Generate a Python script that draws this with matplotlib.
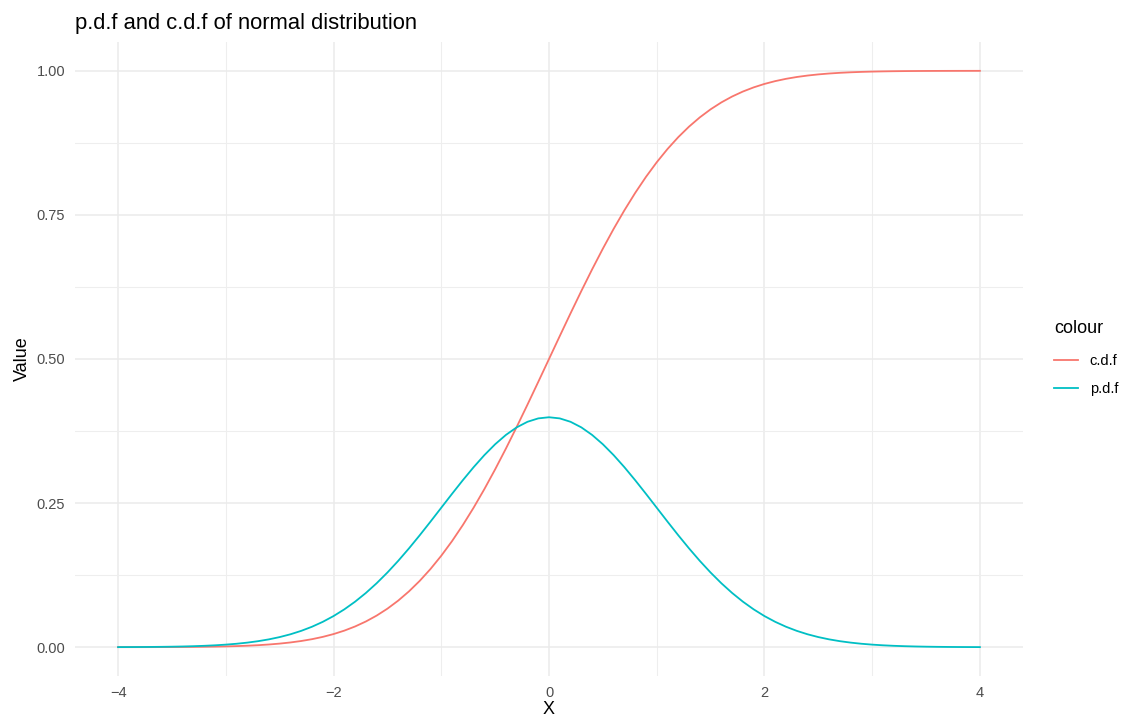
import matplotlib
matplotlib.use("Agg")
import matplotlib.pyplot as plt
from matplotlib.ticker import FixedLocator

plt.rcParams['font.family'] = ['Liberation Sans', 'DejaVu Sans']

# ---- data ----
x_vals = [-4.0, -3.9, -3.8, -3.7, -3.6, -3.5, -3.4, -3.3, -3.2, -3.1,
          -3.0, -2.9, -2.8, -2.7, -2.6, -2.5, -2.4, -2.3, -2.2, -2.1,
          -2.0, -1.9, -1.8, -1.7, -1.6, -1.5, -1.4, -1.3, -1.2, -1.1,
          -1.0, -0.9, -0.8, -0.7, -0.6, -0.5, -0.4, -0.3, -0.2, -0.1,
          0.0,
          0.1, 0.2, 0.3, 0.4, 0.5, 0.6, 0.7, 0.8, 0.9, 1.0,
          1.1, 1.2, 1.3, 1.4, 1.5, 1.6, 1.7, 1.8, 1.9, 2.0,
          2.1, 2.2, 2.3, 2.4, 2.5, 2.6, 2.7, 2.8, 2.9, 3.0,
          3.1, 3.2, 3.3, 3.4, 3.5, 3.6, 3.7, 3.8, 3.9, 4.0]
pdf_vals = [0.00013, 0.00020, 0.00029, 0.00042, 0.00061, 0.00087, 0.00123, 0.00172, 0.00238, 0.00327,
            0.00443, 0.00595, 0.00792, 0.01042, 0.01358, 0.01753, 0.02239, 0.02833, 0.03547, 0.04398,
            0.05399, 0.06562, 0.07895, 0.09405, 0.11092, 0.12952, 0.14973, 0.17137, 0.19419, 0.21785,
            0.24197, 0.26609, 0.28969, 0.31225, 0.33322, 0.35207, 0.36827, 0.38139, 0.39104, 0.39695,
            0.39894,
            0.39695, 0.39104, 0.38139, 0.36827, 0.35207, 0.33322, 0.31225, 0.28969, 0.26609, 0.24197,
            0.21785, 0.19419, 0.17137, 0.14973, 0.12952, 0.11092, 0.09405, 0.07895, 0.06562, 0.05399,
            0.04398, 0.03547, 0.02833, 0.02239, 0.01753, 0.01358, 0.01042, 0.00792, 0.00595, 0.00443,
            0.00327, 0.00238, 0.00172, 0.00123, 0.00087, 0.00061, 0.00042, 0.00029, 0.00020, 0.00013]
cdf_vals = [0.00003, 0.00005, 0.00007, 0.00011, 0.00016, 0.00023, 0.00034, 0.00048, 0.00069, 0.00097,
            0.00135, 0.00187, 0.00256, 0.00347, 0.00466, 0.00621, 0.00820, 0.01072, 0.01390, 0.01786,
            0.02275, 0.02872, 0.03593, 0.04457, 0.05480, 0.06681, 0.08076, 0.09680, 0.11507, 0.13567,
            0.15866, 0.18406, 0.21186, 0.24196, 0.27425, 0.30854, 0.34458, 0.38209, 0.42074, 0.46017,
            0.50000,
            0.53983, 0.57926, 0.61791, 0.65542, 0.69146, 0.72575, 0.75804, 0.78814, 0.81594, 0.84134,
            0.86433, 0.88493, 0.90320, 0.91924, 0.93319, 0.94520, 0.95543, 0.96407, 0.97128, 0.97725,
            0.98214, 0.98610, 0.98928, 0.99180, 0.99379, 0.99534, 0.99653, 0.99744, 0.99813, 0.99865,
            0.99903, 0.99931, 0.99952, 0.99966, 0.99977, 0.99984, 0.99989, 0.99993, 0.99995, 0.99997]
series_names = ["c.d.f", "p.d.f"]
series_colors = ["#F8766D", "#00BFC4"]
x_ticks = [-4, -2, 0, 2, 4]
x_ticklabels = ["\u22124", "\u22122", "0", "2", "4"]
y_ticks = [0.00, 0.25, 0.50, 0.75, 1.00]
y_ticklabels = ["0.00", "0.25", "0.50", "0.75", "1.00"]
x_minor = [-3, -1, 1, 3]
y_minor = [0.125, 0.375, 0.625, 0.875]

W, H = 1139, 727
fig = plt.figure(figsize=(W / 100, H / 100), dpi=100)
left, right, top, bottom = 75, 1023, 42, 676
ax = fig.add_axes([left / W, 1 - bottom / H, (right - left) / W, (bottom - top) / H])

ax.set_xlim(-4.4, 4.4)
ax.set_ylim(-0.05, 1.05)

ax.xaxis.set_major_locator(FixedLocator(x_ticks))
ax.yaxis.set_major_locator(FixedLocator(y_ticks))
ax.xaxis.set_minor_locator(FixedLocator(x_minor))
ax.yaxis.set_minor_locator(FixedLocator(y_minor))
ax.set_xticklabels(x_ticklabels)
ax.set_yticklabels(y_ticklabels)

ax.grid(which='major', color='#EBEBEB', linewidth=1.1)
ax.grid(which='minor', color='#EEEEEE', linewidth=0.8)
ax.set_axisbelow(True)
for s in ax.spines.values():
    s.set_visible(False)
ax.tick_params(which='both', length=0)
ax.tick_params(which='major', labelsize=10.5, labelcolor='#4D4D4D', pad=7)

l1, = ax.plot(x_vals, cdf_vals, color=series_colors[0], linewidth=1.3, label=series_names[0])
l2, = ax.plot(x_vals, pdf_vals, color=series_colors[1], linewidth=1.3, label=series_names[1])

ax.set_xlabel("X", fontsize=13, color='black', labelpad=1)
ax.set_ylabel("Value", fontsize=13, color='black', labelpad=4)

fig.text(left / W, 1 - 29 / H, "p.d.f and c.d.f of normal distribution",
         fontsize=15.8, ha='left', va='baseline', color='black')

leg = fig.legend(handles=[l1, l2], labels=series_names, title="colour",
                 loc='upper left', bbox_to_anchor=(1054 / W, 1 - 320 / H),
                 frameon=False, fontsize=10.5, title_fontsize=13,
                 handlelength=1.65, handletextpad=0.8, labelspacing=1.0,
                 borderpad=0, borderaxespad=0, alignment='left')
leg._legend_box.sep = 12

fig.savefig("out.png", dpi=100)
